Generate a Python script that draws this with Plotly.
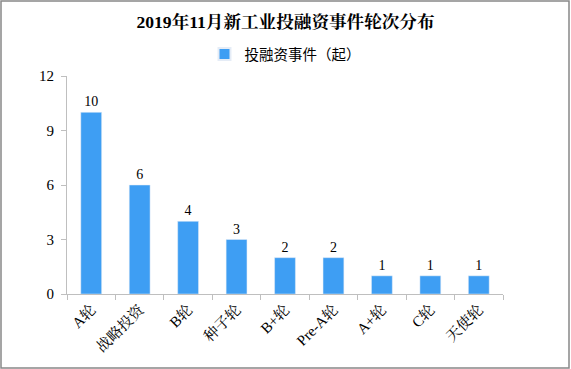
import plotly.graph_objects as go

categories = ["A轮", "战略投资", "B轮", "种子轮", "B+轮", "Pre-A轮", "A+轮", "C轮", "天使轮"]
values = [10, 6, 4, 3, 2, 2, 1, 1, 1]
y_ticks = [0, 3, 6, 9, 12]
series_name = "投融资事件（起）"
title_text = "2019年11月新工业投融资事件轮次分布"

serif = "Liberation Serif, Noto Serif CJK SC, Noto Sans CJK SC, serif"
sans = "Noto Sans CJK SC, sans-serif"

fig = go.Figure()
fig.add_trace(go.Bar(
    x=categories, y=values, name=series_name,
    marker=dict(color="#3E9EF3"),
    text=[str(v) for v in values], textposition="outside",
    textfont=dict(family=serif, size=14, color="#000"),
    cliponaxis=False,
))
fig.update_layout(
    width=571, height=369,
    margin=dict(l=67, r=68, t=76, b=75, autoexpand=False),
    paper_bgcolor="white", plot_bgcolor="white",
    bargap=0.57,
    showlegend=True,
    title=dict(text="<b>" + title_text + "</b>", x=0.5, xanchor="center",
               yref="container", y=1 - 22/369, yanchor="middle",
               font=dict(family=serif, size=17.6, color="#000")),
    legend=dict(orientation="h", x=0.5, xanchor="center", yref="container", y=1 - 54/369, yanchor="middle",
                font=dict(family=sans, size=14.5, color="#000"), itemwidth=30, itemsizing="constant"),
    xaxis=dict(showline=True, linecolor="#BFBFBF", linewidth=1, ticks="outside", tickson="boundaries",
               tickcolor="#BFBFBF", ticklen=5, tickangle=-45, automargin=False,
               tickfont=dict(family=serif, size=15, color="#000"), showgrid=False),
    yaxis=dict(range=[0, 12], tickvals=y_ticks, showline=True, linecolor="#BFBFBF", linewidth=1,
               ticks="outside", tickcolor="#BFBFBF", ticklen=5, showgrid=False, zeroline=False,
               automargin=False, ticklabelstandoff=4,
               tickfont=dict(family=serif, size=15, color="#000")),
    shapes=[dict(type="rect", xref="paper", yref="paper", x0=-66/436, x1=1+66/436, y0=-74/218, y1=1+75/218,
                 line=dict(color="#888", width=1.5), fillcolor="rgba(0,0,0,0)")],
)
fig.write_html("out.html", config={"displayModeBar": False},
               post_script="document.body.style.margin='0';document.body.style.overflow='hidden';")
